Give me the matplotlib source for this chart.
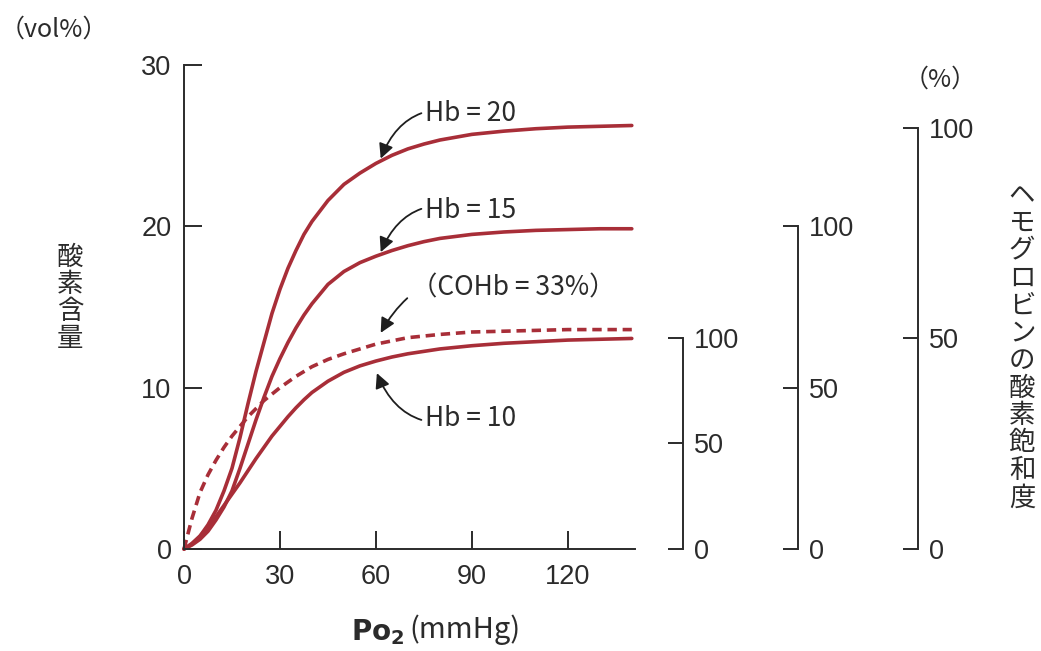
import numpy as np
import matplotlib
matplotlib.use("Agg")
import matplotlib.pyplot as plt

plt.rcParams['font.family'] = ['Liberation Sans', 'Noto Sans CJK JP', 'DejaVu Sans']

# Po2 (mmHg) sample points
po2 = [0, 2.5, 5, 7.5, 10, 12.5, 15, 17.5, 20, 22.5, 25, 27.5, 30, 32.5, 35, 37.5, 40,
       45, 50, 55, 60, 65, 70, 75, 80, 90, 100, 110, 120, 130, 140]

# oxygen content (vol%)
hb20 = [0, 0.3, 0.8, 1.5, 2.4, 3.6, 5.0, 6.9, 9.0, 11.0, 12.8, 14.6, 16.1, 17.4, 18.5, 19.5, 20.3,
        21.6, 22.6, 23.3, 23.9, 24.4, 24.8, 25.1, 25.35, 25.7, 25.9, 26.05, 26.15, 26.2, 26.25]
hb15 = [0, 0.25, 0.6, 1.1, 1.8, 2.6, 3.6, 5.0, 6.5, 8.0, 9.4, 10.7, 11.8, 12.8, 13.7, 14.5, 15.2,
        16.4, 17.2, 17.75, 18.15, 18.5, 18.8, 19.05, 19.25, 19.5, 19.65, 19.75, 19.8, 19.85, 19.85]
hb10 = [0, 0.35, 0.8, 1.35, 2.0, 2.7, 3.4, 4.1, 4.85, 5.6, 6.3, 7.0, 7.6, 8.2, 8.75, 9.25, 9.7,
        10.4, 10.95, 11.35, 11.65, 11.9, 12.1, 12.25, 12.4, 12.6, 12.75, 12.85, 12.95, 13.0, 13.05]
cohb = [0, 1.9, 3.5, 4.6, 5.5, 6.3, 7.0, 7.6, 8.2, 8.7, 9.2, 9.6, 10.0, 10.35, 10.7, 11.0, 11.3,
        11.75, 12.1, 12.4, 12.7, 12.9, 13.1, 13.2, 13.3, 13.45, 13.5, 13.55, 13.6, 13.6, 13.6]

# saturation scales: vol% that corresponds to 100 %
sat_full = [13.1, 20.0, 26.1]
sat_ticks = [0, 50, 100]

red = '#a82e38'
ink = '#2b2b2b'

fig = plt.figure(figsize=(10.41, 6.51), dpi=100)
L, B, W, H = 184 / 1041, 102 / 651, 451 / 1041, 484 / 651
ax = fig.add_axes([L, B, W, H])
ax.set_xlim(0, 141)
ax.set_ylim(0, 30)

ax.plot(po2, hb20, color=red, lw=2.6, clip_on=False, solid_capstyle='round')
ax.plot(po2, hb15, color=red, lw=2.6, clip_on=False, solid_capstyle='round')
ax.plot(po2, hb10, color=red, lw=2.6, clip_on=False, solid_capstyle='round')
ax.plot(po2, cohb, color=red, lw=2.6, ls=(0, (2.6, 1.6)), clip_on=False)

for s in ['top', 'right']:
    ax.spines[s].set_visible(False)
for s in ['left', 'bottom']:
    ax.spines[s].set_color(ink)
    ax.spines[s].set_linewidth(1.4)
ax.set_xticks([0, 30, 60, 90, 120])
ax.set_yticks([0, 10, 20, 30])
ax.tick_params(direction='in', length=13, width=1.4, color=ink,
               labelsize=19.5, labelcolor=ink)
ax.tick_params(axis='y', pad=9)
ax.tick_params(axis='x', pad=11)

# curve labels with curved arrows
arrow = dict(arrowstyle='-|>', color='#1e1e1e', lw=1.3, mutation_scale=22,
             shrinkA=1, shrinkB=0)
lab_font = dict(fontsize=19, color=ink, family=['Noto Sans CJK JP', 'DejaVu Sans'],
                va='center', ha='left')
ax.annotate('Hb = 20', xy=(61.5, 24.2), xytext=(75.5, 27.0),
            arrowprops=dict(connectionstyle='arc3,rad=0.45', **arrow), **lab_font)
ax.annotate('Hb = 15', xy=(61.5, 18.4), xytext=(75.5, 21.0),
            arrowprops=dict(connectionstyle='arc3,rad=0.45', **arrow), **lab_font)
ax.annotate('（COHb = 33%）', xy=(61.5, 13.4), xytext=(71.0, 16.2),
            arrowprops=dict(connectionstyle='arc3,rad=0.45', **arrow), **lab_font)
ax.annotate('Hb = 10', xy=(60.3, 10.9), xytext=(75.5, 8.1),
            arrowprops=dict(connectionstyle='arc3,rad=-0.45', **arrow), **lab_font)

# saturation axes on the right
spine_px = [683, 798, 918]
for full, xp in zip(sat_full, spine_px):
    h = H * full / 30
    sa = fig.add_axes([xp / 1041 - 0.01, B, 0.01, h])
    sa.patch.set_visible(False)
    for s in ['top', 'left', 'bottom']:
        sa.spines[s].set_visible(False)
    sa.spines['right'].set_color(ink)
    sa.spines['right'].set_linewidth(1.4)
    sa.set_xticks([])
    sa.set_ylim(0, 100)
    sa.set_yticks(sat_ticks)
    sa.yaxis.tick_right()
    sa.tick_params(direction='in', length=11, width=1.4, color=ink,
                   labelsize=19.5, labelcolor=ink, pad=8)

# axis titles
cjk = ['Noto Sans CJK JP', 'DejaVu Sans']
fig.text(0, 1 - 30 / 651, '（vol%）', fontsize=18, color=ink,
         family=cjk, ha='left', va='center')
fig.text(940 / 1041, 1 - 80 / 651, '（%）', fontsize=18, color=ink,
         family=cjk, ha='center', va='center')
fig.text(70 / 1041, 1 - 298 / 651, '\n'.join('酸素含量'), fontsize=19, color=ink,
         family=cjk, ha='center', va='center', linespacing=1.0)
fig.text(1022 / 1041, 1 - 347 / 651, '\n'.join('ヘモグロビンの酸素飽和度'), fontsize=19,
         color=ink, family=cjk, ha='center', va='center', linespacing=1.02)
fig.text(405 / 1041, 1 - 632 / 651, r'$\mathbf{Po_2}$', fontsize=20, color=ink,
         ha='right', va='center')
fig.text(409 / 1041, 1 - 630 / 651, '(mmHg)', fontsize=21, color=ink,
         family=cjk, ha='left', va='center')

fig.savefig('out.png', dpi=100, facecolor='white')
